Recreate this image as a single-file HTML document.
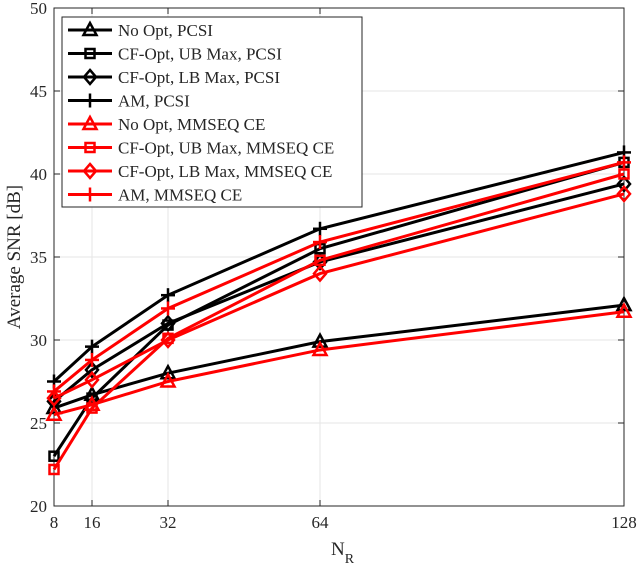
<!DOCTYPE html>
<html><head><meta charset="utf-8"><style>
body{margin:0;background:#fff}
svg text{font-family:"Liberation Serif",serif;fill:#262626}
</style></head><body>
<svg id="c" width="640" height="573" xmlns="http://www.w3.org/2000/svg"></svg>
<script>
const xCats=[8,16,32,64,128];
const yTicks=[20,25,30,35,40,45,50];
const noOptP=[25.9,26.7,28.0,29.9,32.1];
const cfUbP=[23.0,26.5,30.9,35.5,40.7];
const cfLbP=[26.3,28.2,31.0,34.7,39.4];
const amP=[27.5,29.6,32.7,36.7,41.3];
const noOptM=[25.5,26.1,27.5,29.4,31.7];
const cfUbM=[22.2,25.9,30.1,34.8,40.0];
const cfLbM=[26.5,27.6,30.0,34.0,38.8];
const amM=[26.9,28.8,31.9,35.9,40.7];
const names=["No Opt, PCSI","CF-Opt, UB Max, PCSI","CF-Opt, LB Max, PCSI","AM, PCSI","No Opt, MMSEQ CE","CF-Opt, UB Max, MMSEQ CE","CF-Opt, LB Max, MMSEQ CE","AM, MMSEQ CE"];
const series=[noOptP,cfUbP,cfLbP,amP,noOptM,cfUbM,cfLbM,amM];
const markers=["tri","sq","dia","plus","tri","sq","dia","plus"];
const colors=["#000","#000","#000","#000","#f00","#f00","#f00","#f00"];
const L=54,R=624,T=8,B=506;
const X=v=>L+(v-8)/120*(R-L);
const Y=v=>B-(v-20)/30*(B-T);
const s=document.getElementById('c');const NS="http://www.w3.org/2000/svg";
function el(t,a,p){const e=document.createElementNS(NS,t);for(const k in a)e.setAttribute(k,a[k]);(p||s).appendChild(e);return e;}
el('rect',{x:L,y:T,width:R-L,height:B-T,fill:'#fff'});
yTicks.forEach(v=>{const g=el('line',{x1:L,x2:R,y1:Y(v),y2:Y(v),stroke:'#e6e6e6'});

el('line',{x1:L,x2:L+6,y1:Y(v),y2:Y(v),stroke:'#262626'});el('line',{x1:R,x2:R-6,y1:Y(v),y2:Y(v),stroke:'#262626'});
const t=el('text',{x:L-7,y:Y(v)+6,'text-anchor':'end','font-size':17});t.textContent=v;
});
xCats.forEach(v=>{const g=el('line',{x1:X(v),x2:X(v),y1:T,y2:B,stroke:'#e6e6e6'});

el('line',{x1:X(v),x2:X(v),y1:B,y2:B-6,stroke:'#262626'});el('line',{x1:X(v),x2:X(v),y1:T,y2:T+6,stroke:'#262626'});
const t=el('text',{x:X(v),y:B+22,'text-anchor':'middle','font-size':17});t.textContent=v;
});
const ax=el('rect',{x:L,y:T,width:R-L,height:B-T,fill:'none',stroke:'#262626'});

function mark(m,x,y,c,p){
 if(m=='tri')el('polygon',{points:`${x},${y-7} ${x-6.5},${y+5} ${x+6.5},${y+5}`,fill:'none',stroke:c,'stroke-width':2.5},p);
 else if(m=='sq')el('rect',{x:x-4.5,y:y-4.5,width:9,height:9,fill:'none',stroke:c,'stroke-width':2.5},p);
 else if(m=='dia')el('polygon',{points:`${x},${y-7} ${x+6},${y} ${x},${y+7} ${x-6},${y}`,fill:'none',stroke:c,'stroke-width':2.5},p);
 else{el('line',{x1:x-7,x2:x+7,y1:y,y2:y,stroke:c,'stroke-width':2.5},p);el('line',{x1:x,x2:x,y1:y-7,y2:y+7,stroke:c,'stroke-width':2.5},p);}
}
series.forEach((d,i)=>{const g=el('g',{});


el('polyline',{points:d.map((v,j)=>X(xCats[j])+','+Y(v)).join(' '),fill:'none',stroke:colors[i],'stroke-width':3},g);
d.forEach((v,j)=>mark(markers[i],X(xCats[j]),Y(v),colors[i],g));});
const lg=el('g',{});
el('rect',{x:62,y:17,width:300,height:190,fill:'#fff',stroke:'#262626'},lg);
names.forEach((n,i)=>{const y=30+i*23.5;const g=el('g',{},lg);

el('line',{x1:68,x2:112,y1:y,y2:y,stroke:colors[i],'stroke-width':3},g);mark(markers[i],90,y,colors[i],g);
const t=el('text',{x:118,y:y+6,'font-size':17},g);t.textContent=n;});
const yl=el('text',{x:0,y:0,'font-size':19,'text-anchor':'middle',transform:`translate(20,${(T+B)/2}) rotate(-90)`});
yl.textContent='Average SNR [dB]';
const xl=el('text',{x:(L+R)/2-8,y:555,'font-size':19});xl.innerHTML='N<tspan font-size="14" dy="8">R</tspan>';

</script>
</body></html>
